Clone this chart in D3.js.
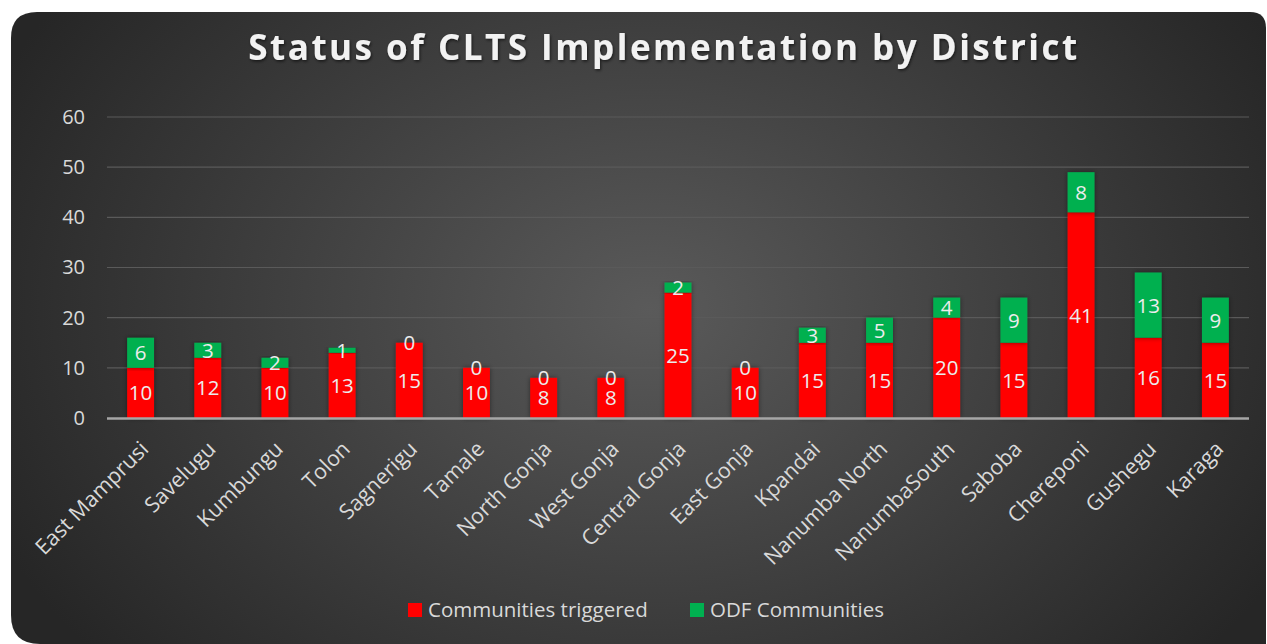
<!DOCTYPE html>
<html>
<head>
<meta charset="utf-8">
<script src="https://cdn.jsdelivr.net/npm/d3@7"></script>
<style>
  html, body { margin: 0; padding: 0; background: #ffffff; }
  svg { display: block; }
  text { font-family: 'Open Sans', 'Noto Sans', sans-serif; }
</style>
</head>
<body>
<div class="chart"></div>
<script>
'use strict';

const districts = ['East Mamprusi', 'Savelugu', 'Kumbungu', 'Tolon', 'Sagnerigu', 'Tamale', 'North Gonja', 'West Gonja', 'Central Gonja', 'East Gonja', 'Kpandai', 'Nanumba North', 'NanumbaSouth', 'Saboba', 'Chereponi', 'Gushegu', 'Karaga'];
const triggered = [10, 12, 10, 13, 15, 10, 8, 8, 25, 10, 15, 15, 20, 15, 41, 16, 15];
const odf = [6, 3, 2, 1, 0, 0, 0, 0, 2, 0, 3, 5, 4, 9, 8, 13, 9];
const yTicks = [0, 10, 20, 30, 40, 50, 60];
const seriesNames = ['Communities triggered', 'ODF Communities'];
const colors = ['#ff0000', '#00b050'];

const FULL_WIDTH = 1267;
const FULL_HEIGHT = 644;

const margin = {
  top: 117,
  left: 107,
  right: 18,
  bottom: 226
};
const WIDTH = FULL_WIDTH - margin.left - margin.right;
const HEIGHT = FULL_HEIGHT - margin.top - margin.bottom;

const root = d3.select('.chart')
  .append('svg')
    .attr('width', FULL_WIDTH)
    .attr('height', FULL_HEIGHT);

const defs = root.append('defs');

const grad = defs.append('radialGradient')
  .attr('id', 'bg')
  .attr('gradientUnits', 'userSpaceOnUse')
  .attr('cx', 650).attr('cy', 310).attr('r', 720)
  .attr('gradientTransform', 'translate(650,310) scale(1,0.75) translate(-650,-310)');
grad.append('stop').attr('offset', '0%').attr('stop-color', '#5a5a5a');
grad.append('stop').attr('offset', '100%').attr('stop-color', '#262626');

const shadow = defs.append('filter')
  .attr('id', 'shadow')
  .attr('x', '-20%').attr('y', '-20%').attr('width', '140%').attr('height', '140%');
shadow.append('feDropShadow')
  .attr('dx', 1).attr('dy', 1.5).attr('stdDeviation', 1.5)
  .attr('flood-color', '#000').attr('flood-opacity', 0.6);

const barShadow = defs.append('filter')
  .attr('id', 'barShadow')
  .attr('x', '-30%').attr('y', '-10%').attr('width', '160%').attr('height', '120%');
barShadow.append('feDropShadow')
  .attr('dx', 0).attr('dy', 0).attr('stdDeviation', 2.5)
  .attr('flood-color', '#000').attr('flood-opacity', 0.45);

// background card
root.append('path')
  .attr('d', 'M11,38 Q11,12 37,12 L1250,12 Q1266,12 1266,28 L1266,644 L40,644 Q11,644 11,615 Z')
  .attr('fill', 'url(#bg)');

root.append('text')
  .attr('x', 664)
  .attr('y', 60)
  .attr('text-anchor', 'middle')
  .attr('font-size', 35)
  .attr('font-weight', 700)
  .attr('letter-spacing', 2.5)
  .attr('fill', '#f2f2f2')
  .attr('filter', 'url(#shadow)')
  .text('Status of CLTS Implementation by District');

const svg = root.append('g')
  .attr('transform', 'translate(' + margin.left + ',' + margin.top + ')');

const x = d3.scaleBand()
  .domain(districts)
  .range([0, WIDTH])
  .paddingInner(0.6)
  .paddingOuter(0.3);

const y = d3.scaleLinear()
  .domain([0, 60])
  .range([HEIGHT, 0]);

// gridlines
svg.append('g')
  .selectAll('line')
  .data(yTicks.slice(1))
  .enter()
  .append('line')
    .attr('x1', 0)
    .attr('x2', WIDTH)
    .attr('y1', (d) => y(d))
    .attr('y2', (d) => y(d))
    .attr('stroke', '#5a5a5a')
    .attr('stroke-width', 1.2);

// y axis labels
const yAxis = svg.append('g')
  .call(d3.axisLeft(y).tickValues(yTicks).tickSize(0).tickPadding(22));
yAxis.select('.domain').remove();
yAxis.selectAll('text')
  .attr('font-size', 20)
  .attr('fill', '#d9d9d9')
  .attr('font-family', "'Open Sans', sans-serif");

const stackData = districts.map((d, i) => ({district: d, triggered: triggered[i], odf: odf[i]}));
const series = d3.stack().keys(['triggered', 'odf'])(stackData);

const groups = svg.selectAll('.series')
  .data(series)
  .enter()
  .append('g')
    .attr('class', 'series')
    .attr('fill', (d, i) => colors[i]);

groups.selectAll('rect')
  .data((d) => d)
  .enter()
  .append('rect')
    .attr('x', (d) => x(d.data.district))
    .attr('y', (d) => y(d[1]))
    .attr('width', x.bandwidth())
    .attr('height', (d) => y(d[0]) - y(d[1]))
    .attr('filter', 'url(#barShadow)');

// x axis line
svg.append('line')
  .attr('x1', 0)
  .attr('x2', WIDTH)
  .attr('y1', HEIGHT + 0.5)
  .attr('y2', HEIGHT + 0.5)
  .attr('stroke', '#a6a6a6')
  .attr('stroke-width', 2.5);

// data labels
groups.selectAll('.label')
  .data((d) => d)
  .enter()
  .append('text')
    .attr('class', 'label')
    .attr('x', (d) => x(d.data.district) + x.bandwidth() / 2)
    .attr('y', (d) => (y(d[0]) + y(d[1])) / 2)
    .attr('dy', '0.36em')
    .attr('text-anchor', 'middle')
    .attr('font-size', 20.5)
    .attr('fill', '#ececec')
    .text((d) => d[1] - d[0]);

// category labels
svg.append('g')
  .selectAll('text')
  .data(districts)
  .enter()
  .append('text')
    .attr('transform', (d) => 'translate(' + (x(d) + x.bandwidth() / 2 + 4) + ',' + (HEIGHT + 27) + ') rotate(-45)')
    .attr('text-anchor', 'end')
    .attr('dy', '0.35em')
    .attr('font-size', 21.5)
    .attr('fill', '#d9d9d9')
    .text((d) => d);

// legend
const legend = root.append('g')
  .attr('transform', 'translate(408,603)');
const legendOffsets = [0, 282];
seriesNames.forEach((name, i) => {
  const item = legend.append('g')
    .attr('transform', 'translate(' + legendOffsets[i] + ',0)');
  item.append('rect')
    .attr('width', 14)
    .attr('height', 14)
    .attr('fill', colors[i]);
  item.append('text')
    .attr('x', 20)
    .attr('y', 7)
    .attr('dy', '0.36em')
    .attr('font-size', 20.5)
    .attr('fill', '#d9d9d9')
    .text(name);
});
</script>
</body>
</html>
